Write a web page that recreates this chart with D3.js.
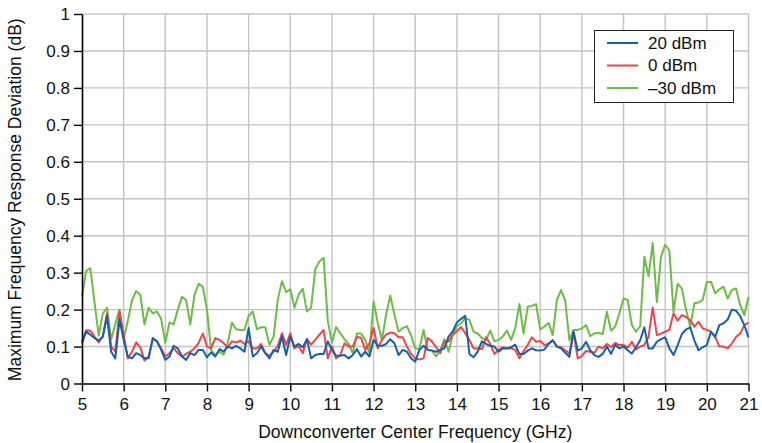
<!DOCTYPE html>
<html><head><meta charset="utf-8">
<script src="https://cdn.jsdelivr.net/npm/d3@7"></script>
<style>html,body{margin:0;padding:0;background:#fff;}svg{display:block;font-family:"Liberation Sans",Arial,Helvetica,sans-serif;}</style>
</head><body><svg id="c" width="762" height="443"></svg>
<script>
const freqGHz = [5.0,5.1,5.2,5.3,5.4,5.5,5.6,5.7,5.8,5.9,6.0,6.1,6.2,6.3,6.4,6.5,6.6,6.7,6.8,6.9,7.0,7.1,7.2,7.3,7.4,7.5,7.6,7.7,7.8,7.9,8.0,8.1,8.2,8.3,8.4,8.5,8.6,8.7,8.8,8.9,9.0,9.1,9.2,9.3,9.4,9.5,9.6,9.7,9.8,9.9,10.0,10.1,10.2,10.3,10.4,10.5,10.6,10.7,10.8,10.9,11.0,11.1,11.2,11.3,11.4,11.5,11.6,11.7,11.8,11.9,12.0,12.1,12.2,12.3,12.4,12.5,12.6,12.7,12.8,12.9,13.0,13.1,13.2,13.3,13.4,13.5,13.6,13.7,13.8,13.9,14.0,14.1,14.2,14.3,14.4,14.5,14.6,14.7,14.8,14.9,15.0,15.1,15.2,15.3,15.4,15.5,15.6,15.7,15.8,15.9,16.0,16.1,16.2,16.3,16.4,16.5,16.6,16.7,16.8,16.9,17.0,17.1,17.2,17.3,17.4,17.5,17.6,17.7,17.8,17.9,18.0,18.1,18.2,18.3,18.4,18.5,18.6,18.7,18.8,18.9,19.0,19.1,19.2,19.3,19.4,19.5,19.6,19.7,19.8,19.9,20.0,20.1,20.2,20.3,20.4,20.5,20.6,20.7,20.8,20.9,21.0];

const dev20dBm = [0.109,0.141,0.132,0.123,0.116,0.127,0.182,0.086,0.068,0.173,0.118,0.073,0.068,0.082,0.077,0.068,0.068,0.123,0.114,0.091,0.064,0.073,0.102,0.095,0.073,0.064,0.082,0.077,0.091,0.091,0.071,0.084,0.073,0.093,0.086,0.100,0.095,0.102,0.095,0.086,0.150,0.073,0.082,0.100,0.082,0.068,0.091,0.086,0.127,0.077,0.127,0.100,0.107,0.098,0.120,0.068,0.077,0.080,0.080,0.114,0.091,0.075,0.075,0.077,0.068,0.077,0.093,0.073,0.086,0.073,0.118,0.102,0.102,0.107,0.120,0.109,0.077,0.091,0.086,0.068,0.059,0.091,0.102,0.091,0.089,0.086,0.091,0.095,0.127,0.141,0.165,0.175,0.183,0.080,0.071,0.086,0.114,0.107,0.102,0.100,0.086,0.095,0.095,0.098,0.105,0.080,0.080,0.089,0.095,0.090,0.089,0.092,0.107,0.117,0.100,0.095,0.083,0.072,0.140,0.089,0.095,0.113,0.090,0.077,0.072,0.080,0.100,0.080,0.105,0.095,0.100,0.090,0.081,0.098,0.117,0.152,0.095,0.095,0.113,0.120,0.125,0.095,0.077,0.104,0.134,0.146,0.152,0.117,0.090,0.098,0.104,0.140,0.126,0.158,0.163,0.173,0.200,0.197,0.182,0.158,0.125];

const dev0dBm = [0.114,0.144,0.143,0.127,0.111,0.127,0.190,0.100,0.086,0.195,0.132,0.068,0.086,0.111,0.098,0.062,0.073,0.121,0.114,0.095,0.073,0.082,0.095,0.082,0.073,0.080,0.086,0.095,0.110,0.135,0.100,0.095,0.123,0.118,0.109,0.098,0.114,0.111,0.116,0.107,0.114,0.095,0.095,0.107,0.082,0.075,0.086,0.102,0.136,0.105,0.136,0.095,0.102,0.082,0.120,0.105,0.118,0.132,0.145,0.068,0.100,0.068,0.077,0.109,0.100,0.100,0.127,0.123,0.091,0.109,0.150,0.095,0.118,0.132,0.138,0.136,0.125,0.125,0.100,0.080,0.068,0.065,0.068,0.123,0.114,0.098,0.082,0.114,0.114,0.132,0.141,0.153,0.136,0.118,0.095,0.095,0.093,0.125,0.107,0.080,0.091,0.098,0.095,0.095,0.091,0.068,0.088,0.104,0.125,0.113,0.115,0.104,0.108,0.117,0.100,0.098,0.090,0.081,0.140,0.068,0.074,0.088,0.086,0.083,0.100,0.095,0.107,0.098,0.110,0.104,0.104,0.097,0.113,0.092,0.100,0.104,0.126,0.206,0.131,0.135,0.140,0.145,0.190,0.170,0.185,0.180,0.172,0.154,0.167,0.149,0.145,0.140,0.126,0.100,0.100,0.095,0.108,0.126,0.135,0.158,0.165];

const devMinus30dBm = [0.236,0.305,0.312,0.220,0.130,0.190,0.205,0.120,0.160,0.200,0.120,0.170,0.225,0.250,0.240,0.160,0.205,0.190,0.195,0.175,0.110,0.165,0.160,0.200,0.235,0.225,0.160,0.240,0.270,0.262,0.200,0.090,0.077,0.086,0.078,0.110,0.165,0.147,0.145,0.145,0.182,0.195,0.147,0.152,0.152,0.105,0.127,0.227,0.277,0.247,0.255,0.205,0.241,0.256,0.195,0.205,0.310,0.330,0.340,0.170,0.110,0.153,0.136,0.120,0.107,0.082,0.135,0.135,0.118,0.082,0.222,0.164,0.118,0.186,0.238,0.186,0.140,0.150,0.155,0.130,0.095,0.093,0.145,0.090,0.090,0.073,0.090,0.120,0.086,0.132,0.155,0.163,0.177,0.172,0.140,0.135,0.123,0.118,0.143,0.114,0.118,0.127,0.143,0.118,0.150,0.215,0.135,0.208,0.210,0.215,0.146,0.154,0.164,0.131,0.226,0.253,0.224,0.117,0.145,0.145,0.149,0.158,0.128,0.136,0.137,0.134,0.194,0.143,0.154,0.190,0.230,0.226,0.158,0.140,0.155,0.343,0.290,0.380,0.220,0.343,0.375,0.360,0.194,0.270,0.257,0.200,0.154,0.217,0.219,0.226,0.275,0.275,0.244,0.255,0.262,0.230,0.253,0.257,0.212,0.185,0.235];

const xTicks = [5,6,7,8,9,10,11,12,13,14,15,16,17,18,19,20,21];
const yTicks = [0,0.1,0.2,0.3,0.4,0.5,0.6,0.7,0.8,0.9,1];
const seriesNames = ["20 dBm","0 dBm","\u201330 dBm"];
const seriesColors = ["#1461a8","#ef4449","#6bbd45"];
const xTitle = "Downconverter Center Frequency (GHz)";
const yTitle = "Maximum Frequency Response Deviation (dB)";

const svg = d3.select("#c");
const L = 82, R = 748.5, T = 14, B = 383.5;
const x = d3.scaleLinear().domain([5,21]).range([L,R]);
const y = d3.scaleLinear().domain([0,1]).range([B,T]);
const FS = "17px";

// grid
svg.append("g").selectAll("line").data(xTicks.slice(1)).join("line")
  .attr("x1",d=>x(d)).attr("x2",d=>x(d)).attr("y1",T).attr("y2",B)
  .attr("stroke","#c4c4c4").attr("stroke-width",1.4);
svg.append("g").selectAll("line").data(yTicks.slice(1)).join("line")
  .attr("x1",L).attr("x2",R).attr("y1",d=>y(d)).attr("y2",d=>y(d))
  .attr("stroke","#c4c4c4").attr("stroke-width",1.4);

// lines
const allSeries = [dev20dBm, dev0dBm, devMinus30dBm];
const line = d3.line().x((d,i)=>x(freqGHz[i])).y(d=>y(d));
[2,1,0].forEach(k=>{
  svg.append("path").datum(allSeries[k]).attr("d",line)
    .attr("fill","none").attr("stroke",seriesColors[k]).attr("stroke-width",2)
    .attr("stroke-linejoin","round");
});

// axes
const xAxis = svg.append("g").attr("transform",`translate(0,${B})`)
  .call(d3.axisBottom(x).tickValues(xTicks).tickFormat(d3.format("d")).tickSize(8).tickSizeOuter(0));
const yAxis = svg.append("g").attr("transform",`translate(${L},0)`)
  .call(d3.axisLeft(y).tickValues(yTicks).tickFormat(d=>d===0||d===1?String(d):d3.format(".1f")(d)).tickSize(8).tickSizeOuter(0));
[xAxis,yAxis].forEach(g=>{
  g.select(".domain").attr("stroke","#000").attr("stroke-width",1.6);
  g.selectAll(".tick line").attr("stroke","#000").attr("stroke-width",1.4);
  g.selectAll("text").attr("fill","#111").style("font-size",FS).style("font-family","'Liberation Sans',Arial,sans-serif");
});
xAxis.selectAll("text").attr("dy","0.71em").attr("y",14);
yAxis.selectAll("text").attr("x",-12).attr("dy","0.35em");

svg.append("text").attr("x",(L+R)/2).attr("y",438).attr("text-anchor","middle")
  .attr("fill","#111").style("font-size","17.5px").text(xTitle);
svg.append("text").attr("transform",`translate(21,${(T+B)/2 + 1}) rotate(-90)`).attr("text-anchor","middle")
  .attr("fill","#111").style("font-size","17.5px").text(yTitle);

// legend
const lg = svg.append("g");
lg.append("rect").attr("x",594.5).attr("y",30.5).attr("width",139).attr("height",72)
  .attr("fill","#fff").attr("stroke","#222").attr("stroke-width",1);
seriesNames.forEach((n,i)=>{
  const yy = 43 + i*22.5;
  lg.append("line").attr("x1",607).attr("x2",638).attr("y1",yy).attr("y2",yy)
    .attr("stroke",seriesColors[i]).attr("stroke-width",2);
  lg.append("text").attr("x",648).attr("y",yy).attr("dy","0.35em").attr("fill","#111")
    .style("font-size",FS).text(n);
});
</script></body></html>
